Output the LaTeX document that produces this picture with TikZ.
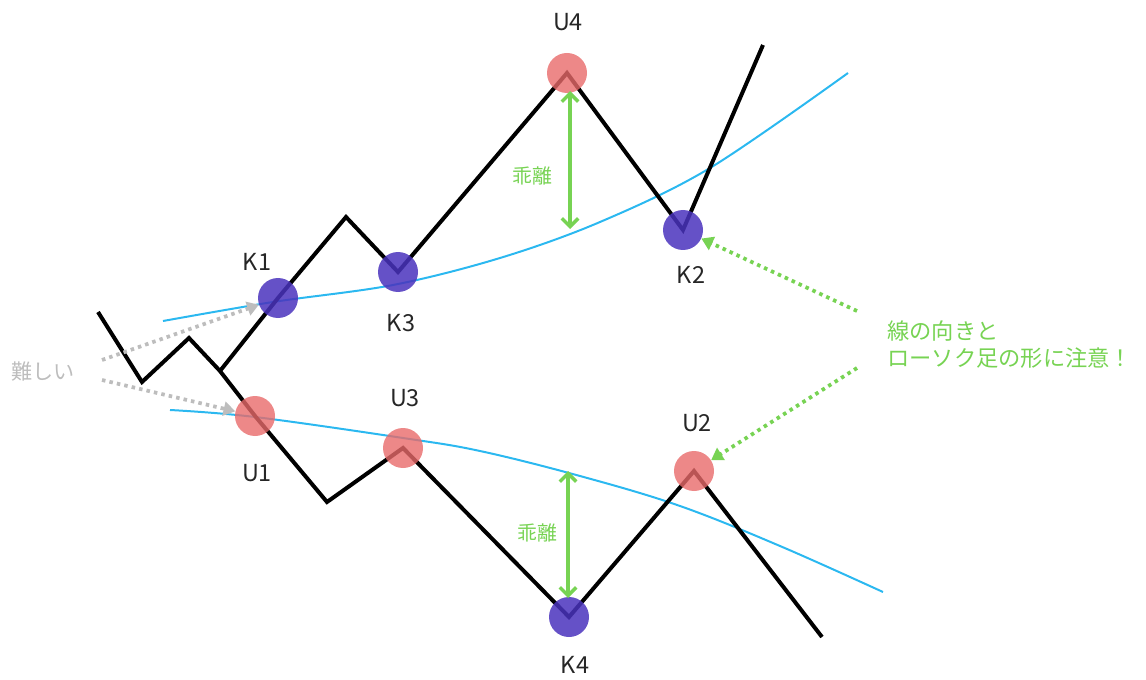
\documentclass[tikz,border=0pt]{standalone}
\usepackage{fontspec}
\setmainfont{Noto Sans CJK JP}
\usetikzlibrary{arrows.meta}
\definecolor{linblue}{HTML}{2BB8F0}
\definecolor{kblue}{HTML}{4A33BD}
\definecolor{ured}{HTML}{E86A6A}
\definecolor{grn}{HTML}{77D353}
\definecolor{gry}{HTML}{BDBDBD}
\begin{document}
\begin{tikzpicture}[x=0.03cm,y=-0.03cm,
  kdot/.style={circle,fill=kblue,fill opacity=0.85,minimum size=40*0.03cm,inner sep=0pt},
  udot/.style={circle,fill=ured,fill opacity=0.8,minimum size=40*0.03cm,inner sep=0pt},
  lbl/.style={font=\fontsize{20}{24}\selectfont,text=black!85},
  price/.style={line width=3.4pt,black,line join=miter},
  ma/.style={line width=1.7pt,linblue},
  gap/.style={line width=3pt,grn,{Straight Barb[length=7pt,width=14pt,line width=3pt]}-{Straight Barb[length=7pt,width=14pt,line width=3pt]}},
  gdot/.style={line width=3.2pt,grn,dash pattern=on 3pt off 3.5pt,-{Triangle[length=10pt,width=12pt]}},
  ydot/.style={line width=3.2pt,gry,dash pattern=on 3pt off 3.5pt,-{Triangle[length=10pt,width=12pt]}},
  gtxt/.style={font=\fontsize{17}{20}\selectfont,text=grn}
]
\useasboundingbox (0,0) rectangle (1146,680);
% moving averages
\draw[ma] plot[smooth,tension=0.55] coordinates {(163,321) (273,302) (393,285) (500,258) (600,222) (710,168) (848,73)};
\draw[ma] plot[smooth,tension=0.6] coordinates {(170,410) (255,417) (403,438) (480,451) (580,476) (680,506) (780,546) (883,592)};
% coordinates of price path
\coordinate (p0) at (98,312);
\coordinate (p1) at (142,382);
\coordinate (p2) at (189,338);
\coordinate (p3) at (220,371);
\coordinate (p4) at (327,502);
\coordinate (p5) at (822,637);
\coordinate (q1) at (346,217);
\coordinate (q2) at (763,45);
% dots (positions)
\coordinate (K1c) at (278,298);
\coordinate (K3c) at (398,272);
\coordinate (U4c) at (567,73);
\coordinate (K2c) at (683,230);
\coordinate (U1c) at (255,416);
\coordinate (U3c) at (403,448);
\coordinate (K4c) at (569,617);
\coordinate (U2c) at (694,471);
\draw[price] (p0) -- (p1) -- (p2) -- (p3) -- (U1c) -- (p4) -- (U3c) -- (K4c) -- (U2c) -- (p5);
\draw[price] (p3) -- (K1c) -- (q1) -- (K3c) -- (U4c) -- (K2c) -- (q2);
\node[kdot] (K1) at (K1c) {};
\node[kdot] (K3) at (K3c) {};
\node[udot] (U4) at (U4c) {};
\node[kdot] (K2) at (K2c) {};
\node[udot] (U1) at (U1c) {};
\node[udot] (U3) at (U3c) {};
\node[kdot] (K4) at (K4c) {};
\node[udot] (U2) at (U2c) {};
% labels
\node[lbl] (lK1) at (257,262) {K1};
\node[lbl] (lK3) at (401,323) {K3};
\node[lbl] (lU4) at (568,22) {U4};
\node[lbl] (lK2) at (691,275) {K2};
\node[lbl] (lU1) at (257,473) {U1};
\node[lbl] (lU3) at (405,398) {U3};
\node[lbl] (lU2) at (697,423) {U2};
\node[lbl] (lK4) at (575,665) {K4};
% gap arrows
\coordinate (g1a) at (570,91);
\coordinate (g1b) at (570,229);
\coordinate (g2a) at (568,471);
\coordinate (g2b) at (568,598);
\draw[gap] (g1a) -- (g1b);
\draw[gap] (g2a) -- (g2b);
\node[gtxt] (t1) at (532,176) {乖離};
\node[gtxt] (t2) at (537,533) {乖離};
% note
\node[anchor=west,font=\fontsize{19}{23}\selectfont,text=grn,align=left,inner sep=0pt] (note) at (887,345) {線の向きと\\ローソク足の形に注意！};
\coordinate (n1) at (857,311);
\coordinate (n2) at (857,368);
\draw[gdot] (n1) -- (K2);
\draw[gdot] (n2) -- (U2);
% difficult
\node[font=\fontsize{18}{22}\selectfont,text=gry] (hard) at (43,372) {難しい};
\coordinate (h1) at (102,360);
\coordinate (h2) at (102,380);
\draw[ydot] (h1) -- (K1);
\draw[ydot] (h2) -- (U1);
\end{tikzpicture}
\end{document}
